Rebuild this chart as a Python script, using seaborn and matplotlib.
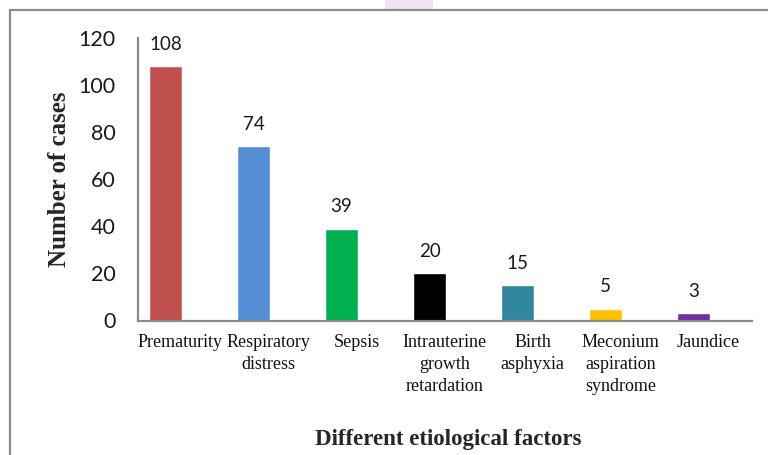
import matplotlib
matplotlib.use("Agg")
import matplotlib.pyplot as plt
import matplotlib.transforms as mtransforms
from matplotlib.patches import Rectangle
import seaborn as sns
import pandas as pd

categories = ["Prematurity", "Respiratory\ndistress", "Sepsis", "Intrauterine\ngrowth\nretardation",
              "Birth\nasphyxia", "Meconium\naspiration\nsyndrome", "Jaundice"]
cases = [108, 74, 39, 20, 15, 5, 3]
colors = ["#C0504D", "#558ED5", "#00B050", "#000000", "#31859C", "#FFC000", "#7030A0"]
yticks = [0, 20, 40, 60, 80, 100, 120]

df = pd.DataFrame({"factor": categories, "cases": cases})

sns.set_style("white")
plt.rcParams["font.family"] = ["Lato", "DejaVu Sans"]

W, H = 768, 455
fig = plt.figure(figsize=(W / 100, H / 100), dpi=100)
ax = fig.add_axes([138 / W, 1 - 320.5 / H, (752 - 138) / W, (320.5 - 38) / H])

sns.barplot(data=df, x="factor", y="cases", hue="factor", palette=colors,
            legend=False, width=0.375, saturation=1, ax=ax)

ax.set_ylim(0, 120)
ax.set_xlim(-0.3125, 6.665)
ax.set_yticks(yticks)
ax.set_yticklabels([str(v) for v in yticks], fontsize=15.5, color="#1a1a1a")

for s in ["top", "right"]:
    ax.spines[s].set_visible(False)
for s in ["left", "bottom"]:
    ax.spines[s].set_color("#8a8a8a")
    ax.spines[s].set_linewidth(1.6)

ax.tick_params(axis="y", length=0, pad=16)
ax.tick_params(axis="x", length=0, pad=10)

for lbl in ax.get_xticklabels():
    lbl.set_fontfamily("Liberation Serif")
    lbl.set_fontsize(13)
    lbl.set_linespacing(1.38)
    lbl.set_color("#111111")
    lbl.set_transform(lbl.get_transform() + mtransforms.ScaledTranslation(15 / 100, 0, fig.dpi_scale_trans))

for i, v in enumerate(cases):
    ax.annotate(str(v), (i, v), xytext=(0, 12), textcoords="offset points",
                ha="center", va="baseline", fontsize=13.5, color="#1a1a1a")

ax.set_xlabel("")
ax.set_ylabel("")

fig.text(60 / W, 1 - 179 / H, "Number of cases", rotation=90, ha="center", va="center",
         fontfamily="Liberation Serif", fontweight="bold", fontsize=18)
fig.text(448 / W, 1 - 440 / H, "Different etiological factors", ha="center", va="center",
         fontfamily="Liberation Serif", fontweight="bold", fontsize=16.5)

# outer chart border
fig.patches.append(Rectangle((10 / W, -0.2), 1.2, 1.2 + (1 - 9.5 / H) - 1, transform=fig.transFigure,
                             fill=False, edgecolor="#8c8c8c", linewidth=1.6))
fig.patches.append(Rectangle((385 / W, 1 - 9 / H), 48 / W, 9 / H, transform=fig.transFigure,
                             facecolor="#f1e2f1", edgecolor="none", zorder=0))

fig.savefig("out.png", dpi=100)
